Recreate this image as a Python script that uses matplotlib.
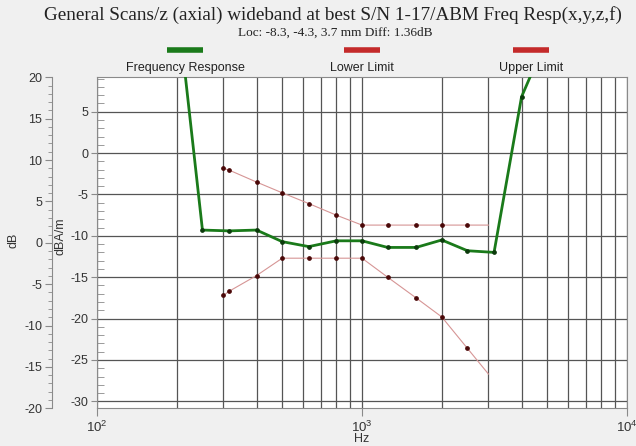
import matplotlib
matplotlib.use('Agg')
import matplotlib.pyplot as plt
from matplotlib.lines import Line2D
from matplotlib.ticker import FixedLocator, MultipleLocator, NullFormatter

plt.rcParams['font.family'] = ['Liberation Sans', 'DejaVu Sans']
plt.rcParams['mathtext.fontset'] = 'custom'
plt.rcParams['mathtext.rm'] = 'Liberation Sans'
plt.rcParams['axes.unicode_minus'] = False

# frequency response (dBA/m)
resp_freq = [200, 250, 315, 400, 500, 630, 800, 1000, 1250, 1600, 2000, 2500, 3150, 4000, 5000]
resp_val = [18.6, -9.3, -9.4, -9.3, -10.7, -11.3, -10.6, -10.6, -11.4, -11.4, -10.5, -11.8, -12.0, 6.8, 14.0]

# limits (dBA/m)
limit_freq = [300, 315, 400, 500, 630, 800, 1000, 1250, 1600, 2000, 2500, 3000]
lower_val = [-17.2, -16.7, -14.8, -12.7, -12.7, -12.7, -12.7, -15.0, -17.5, -19.8, -23.6, -26.7]
upper_val = [-1.85, -2.05, -3.5, -4.8, -6.1, -7.5, -8.7, -8.7, -8.7, -8.7, -8.7, -8.7]

db_offset = 10.84  # dB = dBA/m + offset

green = '#1a7a1a'
red = '#c42a2a'
grid_col = '#555555'
frame_col = '#8a8a8a'
txt_col = '#333333'

fig = plt.figure(figsize=(6.36, 4.46), dpi=100, facecolor='#f0f0f0')
ax = fig.add_axes([97 / 636, 1 - 408.3 / 446, 530 / 636, 331 / 446])
ax.set_facecolor('white')

ax.plot(limit_freq, lower_val, color='#d69595', lw=0.8, marker='o', ms=2.4,
        mfc='#4a0808', mec='#4a0808', markevery=slice(0, -1), zorder=3)
ax.plot(limit_freq, upper_val, color='#d69595', lw=0.8, marker='o', ms=2.4,
        mfc='#4a0808', mec='#4a0808', markevery=slice(0, -1), zorder=3)
ax.plot(resp_freq, resp_val, color=green, lw=2.0, marker='o', ms=2.4,
        mfc='#0c3a0c', mec='#0c3a0c', zorder=4)

ax.set_xscale('log')
ax.set_xlim(100, 10000)
ax.set_ylim(-20 - db_offset, 20 - db_offset)

ax.xaxis.set_major_locator(FixedLocator([100, 1000, 10000]))
ax.xaxis.set_minor_locator(FixedLocator([m * d for d in (100, 1000) for m in range(2, 10)]))
ax.xaxis.set_minor_formatter(NullFormatter())
ax.yaxis.set_major_locator(MultipleLocator(5))
ax.yaxis.set_minor_locator(MultipleLocator(1))

ax.grid(True, which='major', axis='y', color=grid_col, lw=0.9)
ax.grid(True, which='both', axis='x', color=grid_col, lw=0.9)
ax.set_axisbelow(True)

ax.tick_params(axis='x', which='major', direction='out', length=6, color=frame_col,
               labelsize=9.5, labelcolor=txt_col, pad=2)
ax.tick_params(axis='x', which='minor', length=0)
ax.tick_params(axis='y', which='major', direction='out', length=4, color=frame_col,
               labelsize=9, labelcolor=txt_col, pad=2)
ax.tick_params(axis='y', which='minor', direction='in', length=5, color=frame_col)
for s in ax.spines.values():
    s.set_color(frame_col)

ax.set_xlabel('Hz', fontsize=9, color=txt_col, labelpad=-1)
ax.set_ylabel('dBA/m', fontsize=9, color=txt_col)
ax.yaxis.set_label_coords(-0.057, 0.52)

# dB axis on the far left
sec = ax.secondary_yaxis(-0.085, functions=(lambda y: y + db_offset, lambda y: y - db_offset))
sec.yaxis.set_major_locator(MultipleLocator(5))
sec.yaxis.set_minor_locator(MultipleLocator(1))
sec.tick_params(which='major', direction='out', length=5, color=frame_col,
                labelsize=9, labelcolor=txt_col, pad=2)
sec.tick_params(which='minor', direction='out', length=3, color=frame_col)
sec.spines['left'].set_color(frame_col)
fig.text(14 / 636, 1 - 240 / 446, 'dB', rotation=90, ha='center', va='center',
         fontsize=9, color=txt_col)

# titles
fig.text(333 / 636, 1 - 15 / 446, 'General Scans/z (axial) wideband at best S/N 1-17/ABM Freq Resp(x,y,z,f)',
         ha='center', va='center', fontsize=13.8, family='Liberation Serif', color='#222222')
fig.text(335 / 636, 1 - 33 / 446, 'Loc: -8.3, -4.3, 3.7 mm Diff: 1.36dB',
         ha='center', va='center', fontsize=9.5, family='Liberation Serif', color='#222222')

# legend: colour bar above each label
legend_items = [('Frequency Response', green, 185), ('Lower Limit', red, 362), ('Upper Limit', red, 531)]
for label, col, xc in legend_items:
    fig.add_artist(Line2D([(xc - 18) / 636, (xc + 18) / 636], [1 - 50 / 446, 1 - 50 / 446],
                          color=col, lw=4, solid_capstyle='butt'))
    fig.text(xc / 636, 1 - 68 / 446, label, ha='center', va='center', fontsize=9,
             color='#222222')

plt.savefig('out.png', dpi=100, facecolor=fig.get_facecolor())
